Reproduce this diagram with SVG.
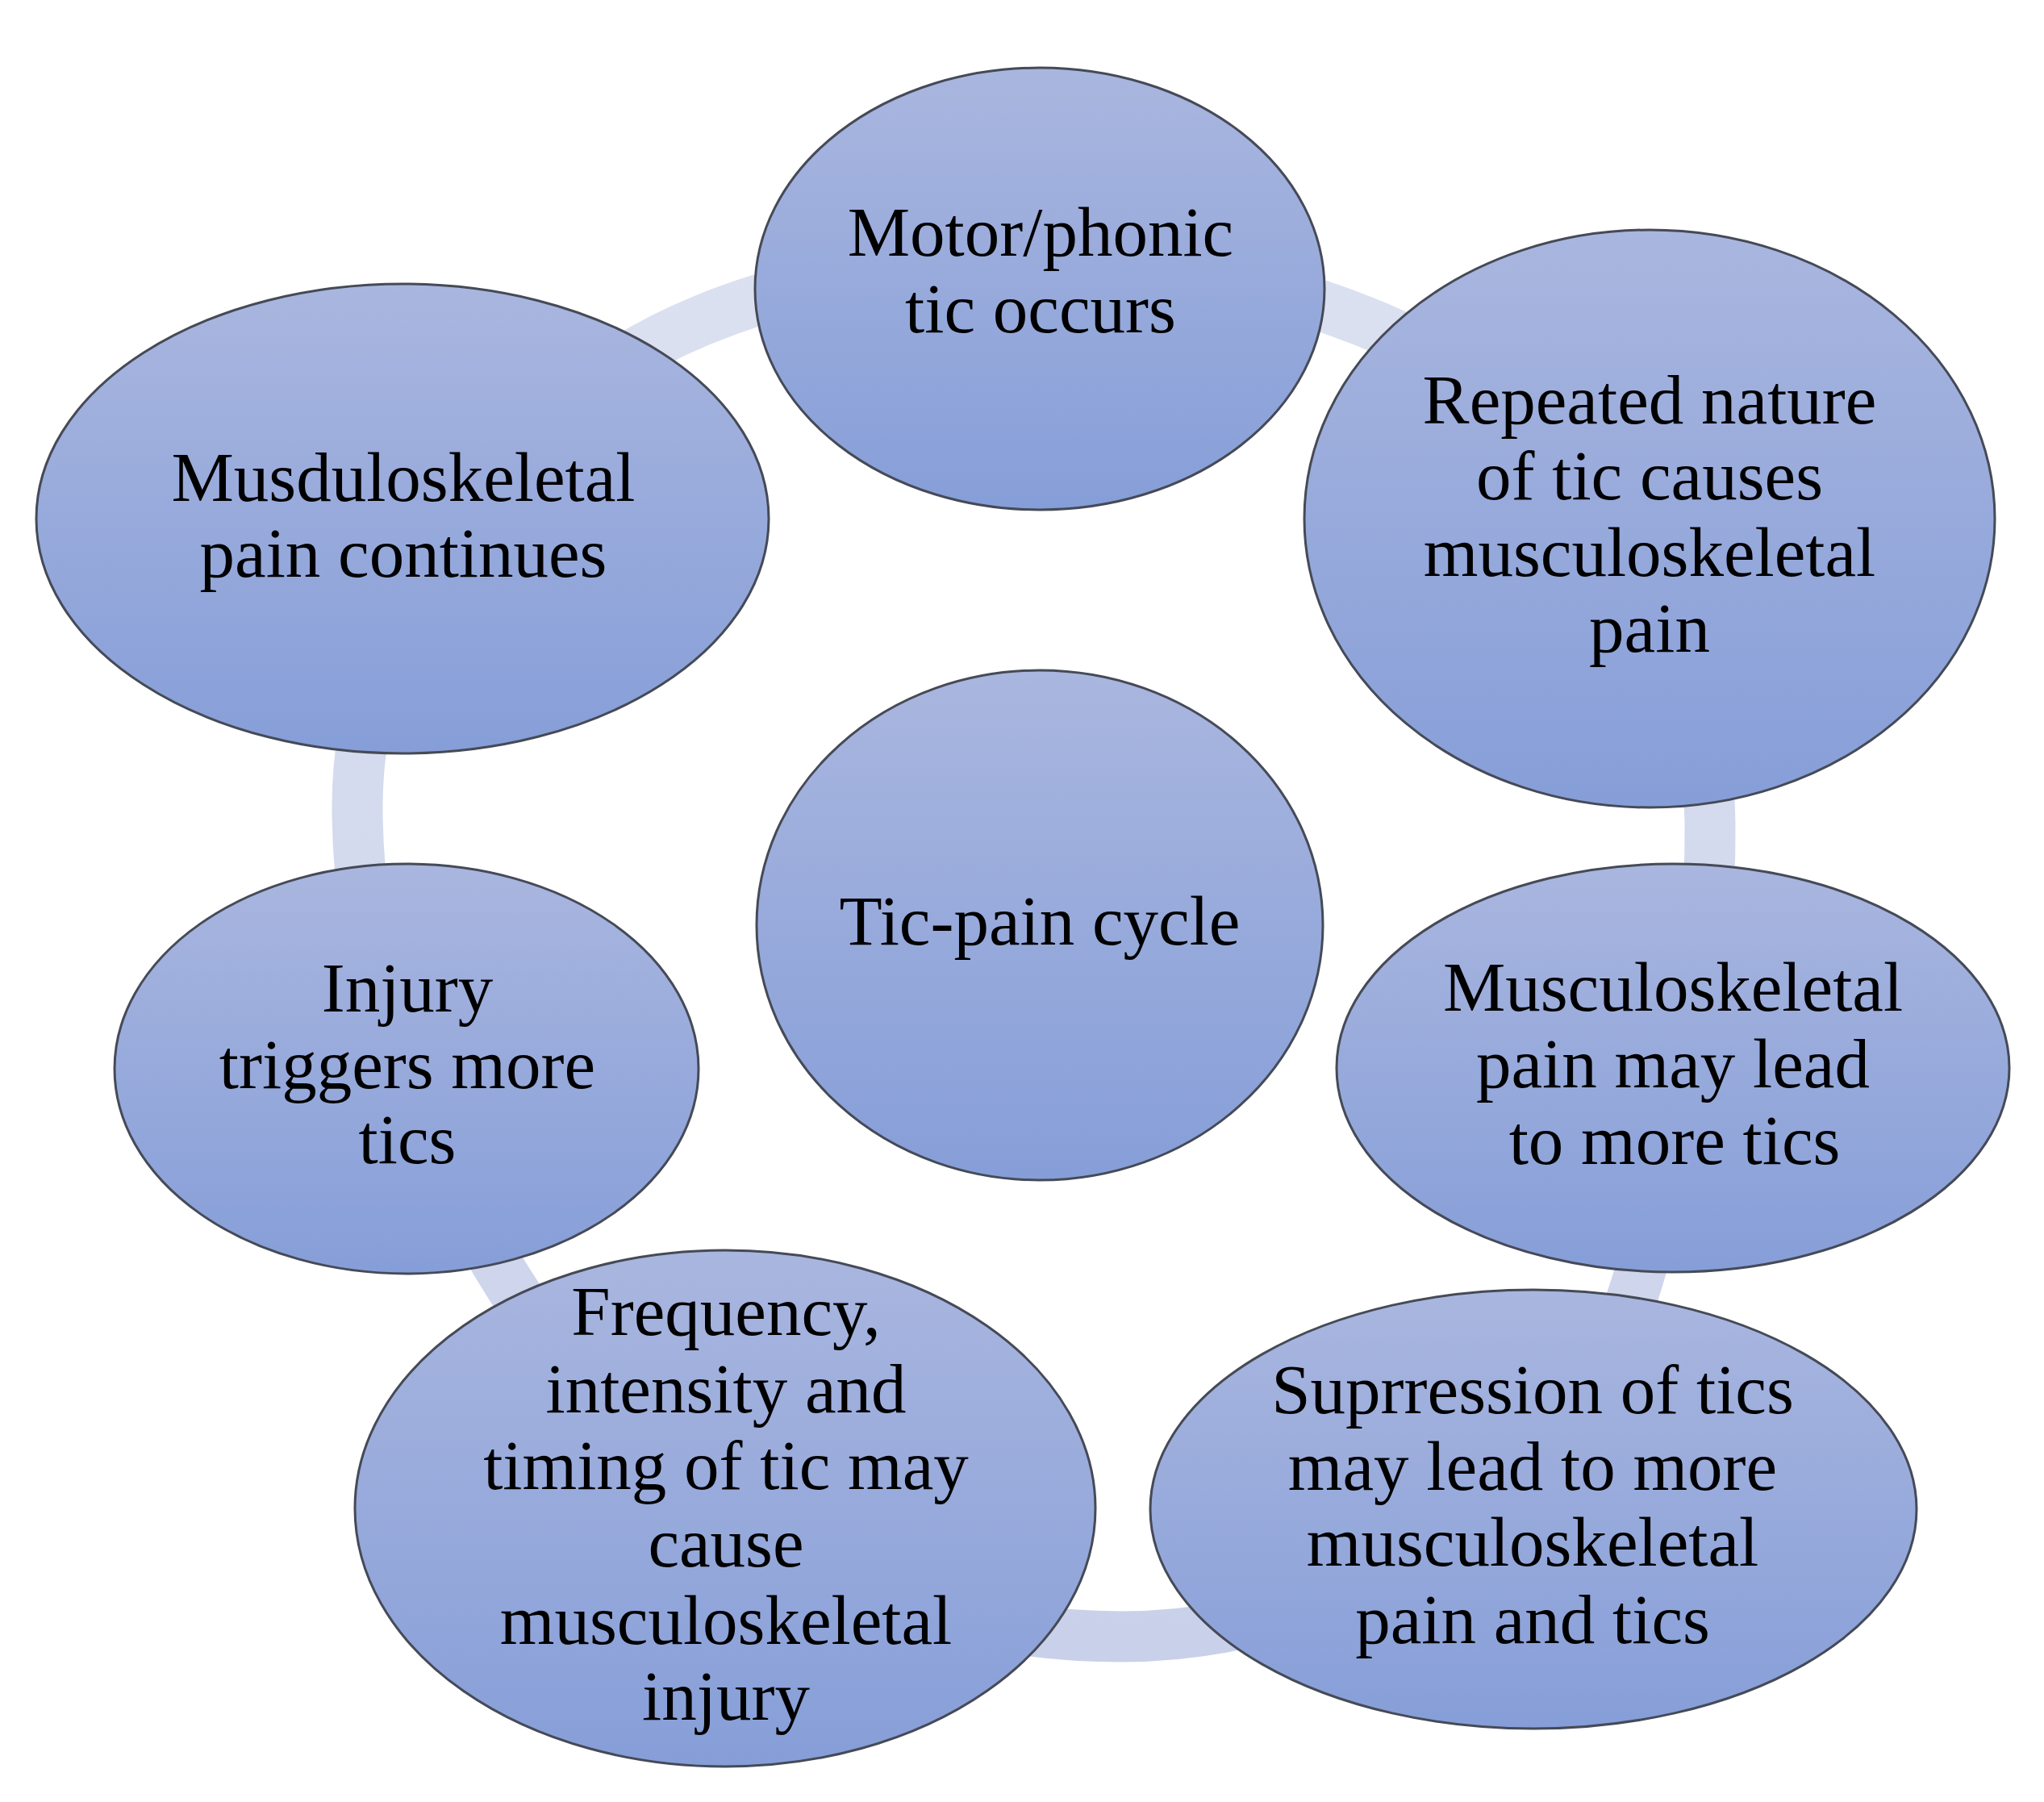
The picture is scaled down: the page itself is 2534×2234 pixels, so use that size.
<svg xmlns="http://www.w3.org/2000/svg" width="2534" height="2234" viewBox="0 0 2534 2234">
  <defs>
    <linearGradient id="nodeFill" x1="0" y1="0" x2="0" y2="1">
      <stop offset="0" stop-color="#a9b6df"/>
      <stop offset="1" stop-color="#869ed8"/>
    </linearGradient>
    <linearGradient id="ringFill" gradientUnits="userSpaceOnUse" x1="0" y1="300" x2="0" y2="2060">
      <stop offset="0" stop-color="#dce1f1"/>
      <stop offset="1" stop-color="#c9d1ea"/>
    </linearGradient>
  </defs>
  <style>
    .node { fill: url(#nodeFill); stroke: #454a56; stroke-width: 3; }
    .conn { fill: none; stroke: url(#ringFill); stroke-width: 63; stroke-linecap: butt; }
    .label { font-family: "Liberation Serif", "DejaVu Serif", serif; font-size: 87px; fill: #000000; text-anchor: middle; }
  </style>
  <rect x="0" y="0" width="2534" height="2234" fill="#ffffff"/>
  <g id="connectors">
    <path class="conn" d="M 565.9,638.6 C 642.25,533 748.5,447.5 868,398 C 1001,343 1145,322 1290,322"/>
    <path class="conn" d="M 1290,322 C 1425,322 1564,348 1690,398 C 1829.5,453.5 1937,536.5 2009.6,643.1"/>
    <path class="conn" d="M 2009.6,643.1 C 2082.25,749.75 2120,880 2120,1030 C 2120,1125 2111.25,1219 2095.6,1312"/>
    <path class="conn" d="M 2095.6,1312 C 2080,1405 2057.5,1497 2030,1588 C 1989.5,1722.5 1899.5,1832.75 1784.6,1909.4"/>
    <path class="conn" d="M 1784.6,1909.4 C 1669.75,1986 1530,2029 1390,2029 C 1225,2029 1074,1984.25 943,1904.1"/>
    <path class="conn" d="M 943,1904.1 C 812,1824 701,1708.5 616,1567 C 564.5,1481.5 521.25,1389.75 490.9,1294.4"/>
    <path class="conn" d="M 490.9,1294.4 C 460.5,1199 443,1100 443,1000 C 443,870 489.5,744.25 565.9,638.6"/>
  </g>
  <g id="node-motor">
    <ellipse class="node" cx="1289" cy="358" rx="353" ry="274"/>
    <text class="label" x="1290" y="317">Motor/phonic</text>
    <text class="label" x="1290" y="412">tic occurs</text>
  </g>
  <g id="node-repeated">
    <ellipse class="node" cx="2045" cy="643" rx="428" ry="358"/>
    <text class="label" x="2045" y="525">Repeated nature</text>
    <text class="label" x="2045" y="619">of tic causes</text>
    <text class="label" x="2045" y="714">musculoskeletal</text>
    <text class="label" x="2045" y="808">pain</text>
  </g>
  <g id="node-pain-more-tics">
    <ellipse class="node" cx="2074" cy="1324" rx="417" ry="253"/>
    <text class="label" x="2074" y="1253">Musculoskeletal</text>
    <text class="label" x="2074" y="1348">pain may lead</text>
    <text class="label" x="2076" y="1443">to more tics</text>
  </g>
  <g id="node-suppression">
    <ellipse class="node" cx="1901" cy="1871" rx="475" ry="272"/>
    <text class="label" x="1900" y="1752">Suprression of tics</text>
    <text class="label" x="1900" y="1847">may lead to more</text>
    <text class="label" x="1900" y="1941">musculoskeletal</text>
    <text class="label" x="1900" y="2037">pain and tics</text>
  </g>
  <g id="node-frequency">
    <ellipse class="node" cx="899" cy="1870" rx="459" ry="320"/>
    <text class="label" x="900" y="1655">Frequency,</text>
    <text class="label" x="900" y="1751">intensity and</text>
    <text class="label" x="900" y="1846">timing of tic may</text>
    <text class="label" x="900" y="1942">cause</text>
    <text class="label" x="900" y="2038">musculoskeletal</text>
    <text class="label" x="900" y="2132">injury</text>
  </g>
  <g id="node-injury">
    <ellipse class="node" cx="504" cy="1325" rx="362" ry="254"/>
    <text class="label" x="505" y="1254">Injury</text>
    <text class="label" x="505" y="1349">triggers more</text>
    <text class="label" x="505" y="1442">tics</text>
  </g>
  <g id="node-continues">
    <ellipse class="node" cx="499" cy="643" rx="454" ry="291"/>
    <text class="label" x="500" y="621">Musduloskeletal</text>
    <text class="label" x="500" y="715">pain continues</text>
  </g>
  <g id="node-center">
    <ellipse class="node" cx="1289" cy="1147" rx="351" ry="316"/>
    <text class="label" x="1289" y="1171">Tic-pain cycle</text>
  </g>
</svg>
